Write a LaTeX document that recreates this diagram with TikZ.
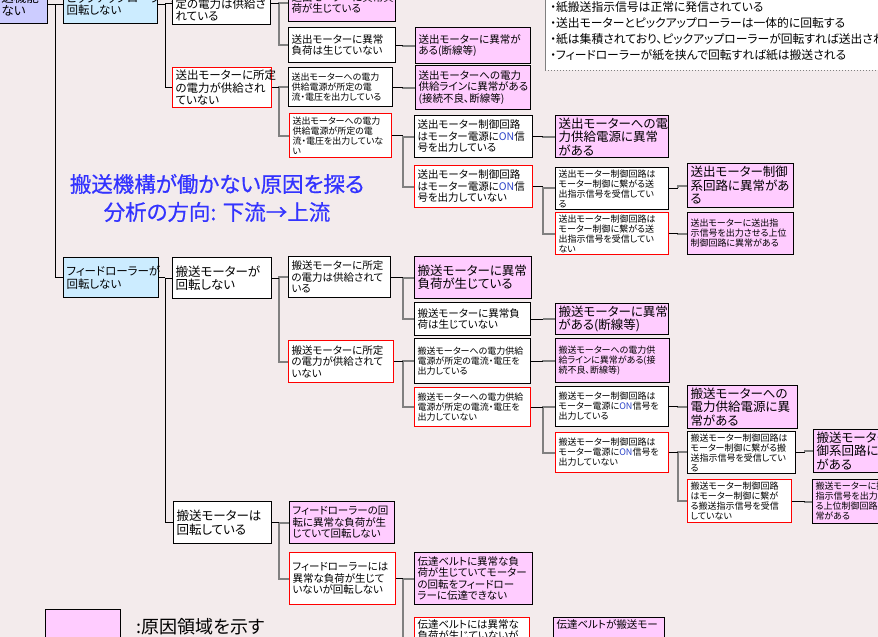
\documentclass[tikz,border=0pt]{standalone}
\usepackage{fontspec}
\setmainfont{Noto Sans CJK JP}[RawFeature=+palt]
\definecolor{bgcol}{HTML}{F3EBEC}
\definecolor{causepink}{HTML}{FFCCFF}
\definecolor{eventblue}{HTML}{CCECFF}
\definecolor{rootpurple}{HTML}{CCCCFF}
\definecolor{titleblue}{HTML}{3333FF}
\definecolor{onblue}{HTML}{2C44C8}
\definecolor{linegray}{HTML}{808080}
\newcommand{\onsig}{{\color{onblue}ON}}
\begin{document}
\begin{tikzpicture}[x=1pt, y=-1pt,
    box/.style={rectangle, draw=black, line width=1pt, anchor=north west, inner xsep=3pt, inner ysep=2pt, align=left},
    cause/.style={box, fill=causepink},
    check/.style={box, fill=white},
    fault/.style={box, fill=white, draw=red},
    event/.style={box, fill=eventblue},
    wh/.style 2 args={text width=#1pt, minimum height=#2pt},
    fa/.style={font=\fontsize{9}{10}\selectfont},
    fb/.style={font=\fontsize{10.5}{11.5}\selectfont},
    fc/.style={font=\fontsize{11.5}{12.5}\selectfont},
    fd/.style={font=\fontsize{12.5}{13.5}\selectfont},
    stub/.style={draw=black, line width=1pt},
    branch/.style={draw=linegray, line width=2pt}]
    % Canvas
    \useasboundingbox (0,0) rectangle (878,637);
    \clip (0,0) rectangle (878,637);
    \fill[bgcol] (0,0) rectangle (878,637);
    % Notes (top right)
    \node[anchor=north west, fill=white, text width=400pt, minimum height=78pt, inner xsep=5pt, inner ysep=0pt, align=left, font=\fontsize{11.8}{16}\selectfont] (notes) at (545,-8) {・紙搬送指示信号は正常に発信されている\\・送出モーターとピックアップローラーは一体的に回転する\\・紙は集積されており、ピックアップローラーが回転すれば送出される\\・フィードローラーが紙を挟んで回転すれば紙は搬送される};
    \draw[linegray, line width=1pt] (notes.north west) -- (notes.south west);
    \draw[linegray, line width=1pt, dotted] (notes.south west) -- (notes.south east);
    % Title
    \node[text=titleblue, align=center, font=\fontsize{21.5}{28}\selectfont\addfontfeature{FakeBold=0.6}] (title) at (217,198) {搬送機構が働かない原因を探る\\分析の方向: 下流→上流};
    % Column 1-2
    \node[box, fill=rootpurple, wh={43}{39}, fd] (root) at (-2,-16) {送機能\\ない};
    \node[event, wh={88}{39}, fc] (pick) at (63,-16) {ピックアップローラーが\\回転しない};
    \node[event, wh={89}{40}, fc] (feed) at (63,257) {フィードローラーが\\回転しない};
    % Column 3
    \node[check, wh={92}{42}, fc] (sendOK) at (172,-18) {送出モーターに所\\定の電力は供給さ\\れている};
    \node[fault, wh={93}{40}, fc] (sendNoPow) at (172,67) {送出モーターに所定\\の電力が供給され\\ていない};
    \node[check, wh={93}{41}, fd] (carryStop) at (172,257) {搬送モーターが\\回転しない};
    \node[check, wh={92}{42}, fd] (carryRun) at (173,501) {搬送モーターは\\回転している};
    % Column 4
    \node[cause, wh={101}{37}, fb] (sendLoad) at (288,-16) {送出モーターに異常負\\荷が生じている};
    \node[check, wh={101}{35}, fb] (sendNoLoad) at (288,27) {送出モーターに異常\\負荷は生じていない};
    \node[check, wh={98}{39}, fa] (sendSupOK) at (288,67) {送出モーターへの電力\\供給電源が所定の電\\流・電圧を出力している};
    \node[fault, wh={96}{44}, fa] (sendSupNG) at (289,113) {送出モーターへの電力\\供給電源が所定の電\\流・電圧を出力していな\\い};
    \node[check, wh={96}{41}, fb] (carryPowOK) at (288,256) {搬送モーターに所定\\の電力は供給されて\\いる};
    \node[fault, wh={99}{42}, fb] (carryPowNG) at (288,340) {搬送モーターに所定\\の電力が供給されて\\いない};
    \node[cause, wh={99}{42}, fb] (feedLoad) at (289,501) {フィードローラーの回\\転に異常な負荷が生\\じていて回転しない};
    \node[fault, wh={100}{52}, fb] (feedNoLoad) at (289,552) {フィードローラーには\\異常な負荷が生じて\\いないが回転しない};
    % Column 5
    \node[cause, wh={109}{36}, fb] (sendBroken) at (415,27) {送出モーターに異常が\\ある(断線等)};
    \node[cause, wh={109}{44}, fb] (sendLine) at (415,65) {送出モーターへの電力\\供給ラインに異常がある\\(接続不良、断線等)};
    \node[check, wh={112}{42}, fb] (sendCtrlOn) at (414,115) {送出モーター制御回路\\はモーター電源に\onsig{}信\\号を出力している};
    \node[fault, wh={112}{42}, fb] (sendCtrlOff) at (414,165) {送出モーター制御回路\\はモーター電源に\onsig{}信\\号を出力していない};
    \node[cause, wh={111}{42}, fd] (carryLoad) at (414,256) {搬送モーターに異常\\負荷が生じている};
    \node[check, wh={110}{33}, fb] (carryNoLoad) at (414,302) {搬送モーターに異常負\\荷は生じていない};
    \node[check, wh={110}{45}, fa] (carrySupOK) at (414,338) {搬送モーターへの電力供給\\電源が所定の電流・電圧を\\出力している};
    \node[fault, wh={110}{39}, fa] (carrySupNG) at (414,387) {搬送モーターへの電力供給\\電源が所定の電流・電圧を\\出力していない};
    \node[cause, wh={112}{52}, fb] (beltLoad) at (414,552) {伝達ベルトに異常な負\\荷が生じていてモーター\\の回転をフィードロー\\ラーに伝達できない};
    \node[fault, wh={109}{20}, fb, text depth=40pt] (beltNoLoad) at (414,617) {伝達ベルトには異常な\\負荷が生じていないが};
    % Column 6
    \node[cause, wh={107}{42}, fd] (sendSupply) at (555,115) {送出モーターへの電\\力供給電源に異常\\がある};
    \node[check, wh={107}{37}, fa] (sendRecv) at (555,167) {送出モーター制御回路は\\モーター制御に繋がる送\\出指示信号を受信してい\\る};
    \node[fault, wh={107}{42}, fa] (sendNoRecv) at (555,212) {送出モーター制御回路は\\モーター制御に繋がる送\\出指示信号を受信してい\\ない};
    \node[cause, wh={107}{31}, fd] (carryBroken) at (555,303) {搬送モーターに異常\\がある(断線等)};
    \node[cause, wh={108}{44}, fa] (carryLine) at (555,338) {搬送モーターへの電力供\\給ラインに異常がある(接\\続不良、断線等)};
    \node[check, wh={107}{40}, fa] (carryCtrlOn) at (555,386) {搬送モーター制御回路は\\モーター電源に\onsig{}信号を\\出力している};
    \node[fault, wh={107}{40}, fa] (carryCtrlOff) at (555,432) {搬送モーター制御回路は\\モーター電源に\onsig{}信号を\\出力していない};
    \node[cause, wh={105}{20}, fb, text depth=40pt] (beltSlip) at (553,617) {伝達ベルトが搬送モー};
    % Column 7
    \node[cause, wh={100}{44}, fd] (sendCtrl) at (687,163) {送出モーター制御\\系回路に異常があ\\る};
    \node[cause, wh={100}{42}, fa] (sendUpper) at (687,212) {送出モーターに送出指\\示信号を出力させる上位\\制御回路に異常がある};
    \node[cause, wh={104}{41}, fd] (carrySupply) at (687,385) {搬送モーターへの\\電力供給電源に異\\常がある};
    \node[check, wh={102}{39}, fa] (carryRecv) at (687,431) {搬送モーター制御回路は\\モーター制御に繋がる搬\\送指示信号を受信してい\\る};
    \node[fault, wh={98}{43}, fa] (carryNoRecv) at (687,479) {搬送モーター制御回路\\はモーター制御に繋が\\る搬送指示信号を受信\\していない};
    % Column 8
    \node[cause, wh={102}{43}, fd] (carryCtrl) at (813,429) {搬送モーター制\\御系回路に異常\\がある};
    \node[cause, wh={102}{44}, fa] (carryUpper) at (812,479) {搬送モーターに搬送\\指示信号を出力させ\\る上位制御回路に異\\常がある};
    % Junction columns
    \coordinate (j1) at (55,0); \coordinate (j2) at (165,0); \coordinate (j3) at (279,0);
    \coordinate (j4) at (403,0); \coordinate (j5) at (543,0); \coordinate (j6) at (678,0); \coordinate (j7) at (805,0);
    % Connectors, first levels
    \draw[stub] (root.east) -- (root.east -| j1);
    \foreach \c in {pick,feed} \draw[stub] (root.east -| j1) |- (\c.west);
    \draw[stub] (pick.east) -- (pick.east -| j2);
    \foreach \c in {sendOK,sendNoPow} \draw[stub] (pick.east -| j2) |- (\c.west);
    \draw[stub] (feed.east) -- (feed.east -| j2);
    \foreach \c in {carryStop,carryRun} \draw[stub] (feed.east -| j2) |- (\c.west);
    % Connectors, deeper levels
    \foreach \p/\j/\kids in {sendOK/j3/{sendLoad,sendNoLoad}, sendNoPow/j3/{sendSupOK,sendSupNG},
        carryStop/j3/{carryPowOK,carryPowNG}, carryRun/j3/{feedLoad,feedNoLoad},
        sendNoLoad/j4/{sendBroken}, sendSupOK/j4/{sendLine}, sendSupNG/j4/{sendCtrlOn,sendCtrlOff},
        carryPowOK/j4/{carryLoad,carryNoLoad}, carryPowNG/j4/{carrySupOK,carrySupNG}, feedNoLoad/j4/{beltLoad,beltNoLoad},
        sendCtrlOn/j5/{sendSupply}, sendCtrlOff/j5/{sendRecv,sendNoRecv}, carryNoLoad/j5/{carryBroken},
        carrySupOK/j5/{carryLine}, carrySupNG/j5/{carryCtrlOn,carryCtrlOff}, beltNoLoad/j5/{beltSlip},
        sendRecv/j6/{sendCtrl}, sendNoRecv/j6/{sendUpper}, carryCtrlOn/j6/{carrySupply}, carryCtrlOff/j6/{carryRecv,carryNoRecv},
        carryRecv/j7/{carryCtrl}, carryNoRecv/j7/{carryUpper}} {
        \foreach \c in \kids \draw[branch] (\p.east -| \j) |- (\c.west);
        \draw[stub] (\p.east) -- (\p.east -| \j);
    }
    % Legend
    \node[cause, minimum width=75pt, minimum height=40pt, inner sep=0pt] (key) at (45,609) {};
    \node[anchor=west, font=\fontsize{18}{20}\selectfont] (keytext) at (133,627) {:原因領域を示す};
\end{tikzpicture}
\end{document}
